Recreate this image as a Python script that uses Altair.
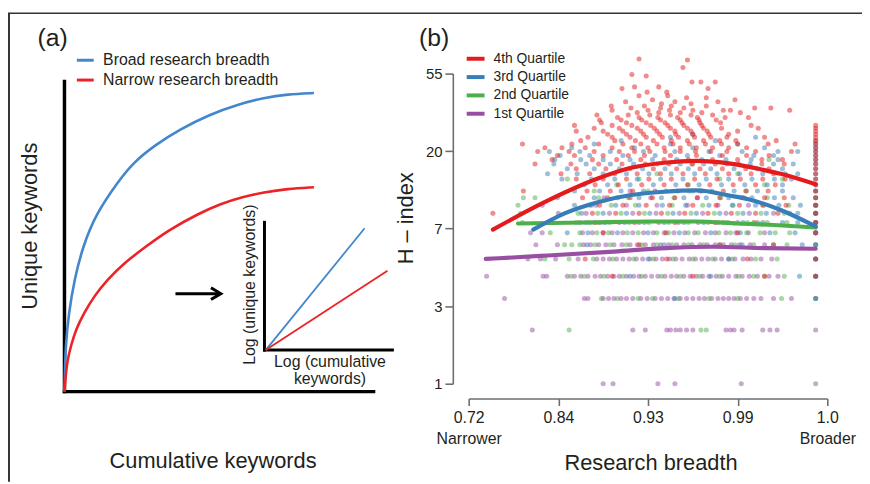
import altair as alt
import pandas as pd

FONT = "Liberation Sans"
INK = "#231f20"
AXIS_GREY = "#6d6e70"

# ---------------- panel (a): schematic ----------------
A_SERIES = ["Broad research breadth", "Narrow research breadth"]
A_COLORS = ["#4386cc", "#ec2227"]

BROAD_X = [0, 0.32, 1.4, 3.2, 5.9, 10.2, 17.6, 22.4, 29.4, 37.4, 47.0, 56.1, 64.6, 72.1, 80.7]
BROAD_Y = [0, 14.8, 25.4, 36.1, 46.7, 57.4, 68.1, 74.0, 79.6, 84.6, 89.4, 92.6, 94.8, 95.9, 96.3]
NARROW_X = [0, 0.75, 2.1, 3.7, 6.4, 9.6, 13.9, 19.2, 26.2, 33.7, 43.3, 50.7, 57.1, 64.6, 72.1, 80.7]
NARROW_Y = [0, 9.5, 14.8, 20.1, 25.5, 30.8, 36.1, 41.4, 46.7, 52.1, 57.4, 60.6, 62.7, 64.3, 65.4, 65.9]

INSET_BROAD_X = [65.1, 97.1]
INSET_BROAD_Y = [13.4, 52.7]
INSET_NARROW_X = [65.1, 104.5]
INSET_NARROW_Y = [13.4, 39.0]

AXES_X = [0, 0, 64.7, 64.7]
AXES_Y = [0, 0, 13.4, 13.4]
AXES_X2 = [0, 100, 64.7, 106.1]
AXES_Y2 = [100, 0, 54.6, 13.4]
AXES_W = [3.5, 3.5, 3.0, 3.0]

ARROW_X = [35.9, 50.0]
ARROW_Y = [31.6, 31.6]
ARROW_TIP = [50.6, 31.6]

# ---------------- panel (b): scatter ----------------
Q_NAMES = ["4th Quartile", "3rd Quartile", "2nd Quartile", "1st Quartile"]
Q_COLORS = ["#e41a1c", "#377eb8", "#4daf4a", "#984ea3"]

X_TICKS = [0, 100, 200, 300, 400]
X_TICK_LABELS = ["0.72", "0.84", "0.93", "0.99", "1.0"]
X_END_LABELS = ["Narrower", "Broader"]
Y_TICKS = [1, 2.71828, 7.38906, 20.0855, 54.5982]
Y_TICK_LABELS = ["1", "3", "7", "20", "55"]

# H-index level -> breadth positions (axis units, 0 = 0.72 ... 400 = 1.0)
Q1_ROWS = {
    1: [150, 161, 211, 230, 304, 387],
    2: [71, 183, 197, 221, 225, 231, 236, 243, 250, 287, 292, 296, 305, 328, 336, 344, 387],
    3: [40, 129, 133, 150, 156, 162, 170, 176, 183, 192, 199, 208, 215, 222, 229, 236, 243, 250,
        257, 263, 271, 278, 284, 290, 296, 303, 310, 318, 326, 340, 360, 387],
    4: [20, 83, 87, 110, 118, 125, 133, 141, 147, 155, 162, 168, 176, 184, 190, 197, 204, 211, 219,
        226, 232, 240, 247, 254, 261, 268, 276, 283, 290, 298, 305, 313, 322, 335, 345, 387],
    5: [66, 80, 97, 122, 143, 150, 157, 165, 172, 179, 187, 194, 202, 209, 216, 224, 231, 238, 246,
        253, 260, 267, 275, 282, 290, 297, 306, 315, 326, 338, 387],
    6: [75, 99, 128, 136, 145, 153, 162, 171, 180, 188, 197, 206, 214, 223, 232, 240, 249, 258, 266,
        275, 284, 293, 302, 314, 330, 387],
    7: [69, 82, 127, 138, 150, 160, 172, 183, 195, 206, 218, 229, 241, 252, 264, 275, 287, 298, 312, 330, 387],
    8: [124, 146, 168, 190, 212, 234, 256, 278, 300, 322, 387],
    9: [100, 131, 157, 183, 209, 235, 261, 287, 313, 340, 387],
    10: [82, 142, 176, 210, 244, 278, 312, 387],
    11: [151, 203, 255, 307],
    12: [180, 260],
}
Q2_ROWS = {
    2: [112, 259, 265],
    3: [148, 166, 189, 205, 234, 268, 300, 349, 387],
    4: [114, 129, 151, 172, 193, 215, 236, 258, 280, 301, 318, 330, 352, 387],
    5: [85, 112, 139, 161, 184, 206, 228, 250, 272, 294, 320, 344, 387],
    6: [107, 115, 124, 141, 158, 176, 193, 210, 227, 245, 262, 280, 297, 318, 340, 355, 387],
    7: [91, 124, 143, 156, 177, 189, 210, 223, 245, 256, 279, 292, 310, 325, 342, 358, 387],
    8: [60, 92, 120, 135, 157, 179, 201, 223, 245, 267, 289, 311, 333, 355, 387],
    9: [58, 122, 144, 170, 196, 222, 248, 274, 300, 326, 352, 387],
    10: [55, 135, 159, 186, 227, 261, 295, 329, 357, 387],
    11: [61, 74, 145, 178, 229, 281, 333, 387],
    12: [140, 200, 250, 310, 387],
    13: [165, 245, 330],
    14: [110, 190, 280, 350],
    15: [210, 300],
    17: [250],
    18: [335],
}
Q3_ROWS = {
    3: [230, 387],
    4: [180, 270, 369, 387],
    5: [200, 290, 387],
    6: [132, 218, 305, 372, 387],
    7: [110, 133, 166, 200, 235, 270, 303, 336, 364, 387],
    8: [131, 152, 174, 196, 218, 240, 262, 284, 306, 328, 350, 367, 387],
    9: [126, 150, 176, 202, 228, 254, 280, 306, 332, 358, 367, 387],
    10: [118, 137, 164, 190, 216, 242, 268, 294, 320, 346, 370, 387],
    11: [99, 140, 166, 190, 215, 240, 265, 290, 316, 341, 362, 387],
    12: [118, 146, 170, 195, 220, 246, 271, 296, 322, 350, 387],
    13: [129, 155, 180, 206, 231, 257, 282, 308, 333, 350, 387],
    14: [104, 137, 163, 188, 214, 239, 265, 290, 316, 341, 360, 387],
    15: [88, 121, 150, 176, 201, 226, 252, 277, 302, 328, 353, 367, 387],
    16: [110, 140, 168, 194, 219, 245, 270, 296, 322, 350, 387],
    17: [95, 131, 158, 184, 210, 236, 262, 288, 314, 340, 362, 387],
    18: [96, 125, 150, 180, 205, 232, 260, 287, 315, 345, 387],
    19: [102, 135, 172, 208, 244, 280, 318, 340, 387],
    20: [90, 124, 158, 195, 230, 268, 305, 345, 367, 387],
    21: [115, 185, 250, 330, 387],
    22: [140, 225, 300, 387],
    23: [170, 275, 387],
    24: [225, 320],
    25: [250],
}
Q4_ROWS = {
    4: [160, 250, 330, 387],
    5: [130, 221, 311, 387],
    6: [190, 280, 340],
    7: [150, 220, 300, 387],
    8: [141, 185, 230, 275, 318, 387],
    9: [27, 138, 164, 190, 215, 241, 267, 293, 320, 345, 387],
    10: [146, 172, 198, 224, 250, 276, 302, 328, 354, 387],
    11: [127, 155, 180, 205, 230, 255, 280, 305, 330, 352, 387],
    12: [61, 132, 158, 183, 208, 233, 258, 284, 309, 334, 387],
    13: [141, 167, 193, 218, 244, 269, 295, 320, 342, 387],
    14: [120, 150, 176, 201, 226, 252, 277, 303, 328, 353, 387],
    15: [103, 135, 163, 188, 214, 239, 264, 290, 315, 340, 387],
    16: [120, 153, 180, 206, 232, 258, 283, 309, 335, 387],
    17: [74, 114, 145, 171, 197, 223, 249, 275, 301, 327, 352, 387],
    18: [93, 138, 165, 192, 218, 245, 272, 300, 327, 350, 387],
    19: [99, 118, 150, 178, 196, 225, 254, 283, 310, 335, 387],
    20: [77, 112, 140, 168, 185, 202, 219, 236, 253, 270, 288, 320, 360, 387],
    21: [85, 104, 130, 160, 182, 200, 218, 236, 254, 272, 290, 310, 387],
    22: [60, 115, 145, 172, 192, 210, 228, 246, 264, 282, 300, 334, 364, 387],
    23: [125, 163, 186, 206, 226, 244, 262, 280, 298, 343, 387],
    24: [133, 160, 180, 198, 216, 234, 252, 270, 288, 330, 387],
    25: [155, 176, 195, 213, 231, 250, 268, 290, 387],
    26: [120, 150, 172, 192, 210, 230, 248, 266, 300, 387],
    27: [140, 168, 188, 207, 225, 244, 262, 282, 323, 387],
    28: [118, 160, 182, 203, 222, 240, 260, 315, 387],
    29: [148, 176, 198, 219, 238, 258, 281],
    30: [146, 170, 193, 214, 236, 257, 276],
    31: [166, 190, 211, 233, 255, 286, 312],
    32: [143, 178, 202, 225, 248, 272],
    33: [188, 212, 236, 260, 303],
    34: [160, 200, 224, 250, 284, 292, 358],
    35: [181, 214, 240, 319, 337],
    36: [159, 196, 226, 265],
    37: [215, 248],
    38: [175, 230, 278],
    39: [205, 297],
    40: [243, 265],
    41: [190, 222],
    43: [199, 221],
    45: [171, 267],
    46: [185, 212],
    49: [249, 259, 275],
    53: [198],
    54: [182],
    59: [239],
    65: [244],
    66: [190],
}

Q4_LINE_B = [27, 88, 144, 181, 218, 254, 292, 328, 348, 387]
Q4_LINE_H = [7.3, 10.6, 14.1, 16.2, 17.3, 17.7, 17.1, 15.8, 15.0, 13.1]
Q3_LINE_B = [72, 107, 144, 181, 218, 254, 292, 312, 348, 387]
Q3_LINE_H = [7.3, 9.0, 10.4, 11.4, 11.9, 12.1, 11.3, 10.8, 9.4, 7.6]
Q2_LINE_B = [55, 130, 200, 254, 300, 350, 387]
Q2_LINE_H = [7.9, 8.0, 8.1, 8.1, 7.9, 7.7, 7.5]
Q1_LINE_B = [19, 80, 162, 220, 273, 330, 387]
Q1_LINE_H = [5.0, 5.2, 5.5, 5.75, 5.85, 5.75, 5.7]

# ---------------- tables ----------------
a_curves = pd.DataFrame(
    [{"x": x, "y": y, "s": A_SERIES[0]} for x, y in zip(BROAD_X, BROAD_Y)]
    + [{"x": x, "y": y, "s": A_SERIES[1]} for x, y in zip(NARROW_X, NARROW_Y)]
)
a_inset = pd.DataFrame(
    [{"x": x, "y": y, "s": A_SERIES[0]} for x, y in zip(INSET_BROAD_X, INSET_BROAD_Y)]
    + [{"x": x, "y": y, "s": A_SERIES[1]} for x, y in zip(INSET_NARROW_X, INSET_NARROW_Y)]
)
a_axes = pd.DataFrame({"x": AXES_X, "y": AXES_Y, "x2": AXES_X2, "y2": AXES_Y2, "w": AXES_W})
a_arrow = pd.DataFrame({"x": [ARROW_X[0]], "x2": [ARROW_X[1]], "y": [ARROW_Y[0]]})
a_tip = pd.DataFrame({"x": [ARROW_TIP[0]], "y": [ARROW_TIP[1]]})

pts = []
for qname, rows in zip(["1st Quartile", "2nd Quartile", "3rd Quartile", "4th Quartile"],
                       [Q1_ROWS, Q2_ROWS, Q3_ROWS, Q4_ROWS]):
    for h, bs in rows.items():
        for b in bs:
            pts.append({"b": b, "h": h, "q": qname})
b_points = pd.DataFrame(pts)

lines = []
for qname, bs, hs in [("1st Quartile", Q1_LINE_B, Q1_LINE_H), ("2nd Quartile", Q2_LINE_B, Q2_LINE_H),
                      ("3rd Quartile", Q3_LINE_B, Q3_LINE_H), ("4th Quartile", Q4_LINE_B, Q4_LINE_H)]:
    for b, h in zip(bs, hs):
        lines.append({"b": b, "h": h, "q": qname})
b_lines = pd.DataFrame(lines)
b_legend = pd.DataFrame({"q": Q_NAMES})

# ---------------- scales ----------------
A_XS = alt.Scale(domain=[0, 100], range=[-408, -96], nice=False, zero=False)
A_YS = alt.Scale(domain=[0, 100], range=[321, 8], nice=False, zero=False)
A_COL = alt.Scale(domain=A_SERIES, range=A_COLORS)

B_XS = alt.Scale(domain=[0, 400], nice=False, zero=False)
B_YS = alt.Scale(type="log", domain=[Y_TICKS[0], Y_TICKS[-1]], nice=False)
B_COL = alt.Scale(domain=Q_NAMES, range=Q_COLORS)
LEG_YS = alt.Scale(type="point", domain=Q_NAMES, range=[-15, 40.5], padding=0)

x_expr = ""
for i, (v, lab) in enumerate(zip(X_TICKS, X_TICK_LABELS)):
    if i == 0:
        s = f"['{lab}', '{X_END_LABELS[0]}']"
    elif i == len(X_TICKS) - 1:
        s = f"['{lab}', '{X_END_LABELS[1]}']"
    else:
        s = f"'{lab}'"
    if i < len(X_TICKS) - 1:
        x_expr += f"datum.value == {v} ? {s} : "
    else:
        x_expr += s
y_expr = ""
for v, lab in zip(Y_TICKS[:-1], Y_TICK_LABELS[:-1]):
    y_expr += f"abs(datum.value - {v}) < 0.01 ? '{lab}' : "
y_expr += f"'{Y_TICK_LABELS[-1]}'"

# ---------------- panel (a) layers ----------------
a_enc = dict(x=alt.X("x:Q", scale=A_XS, axis=None), y=alt.Y("y:Q", scale=A_YS, axis=None))

curves = alt.Chart(a_curves).mark_line(strokeWidth=2.6, interpolate="basis").encode(
    **a_enc,
    color=alt.Color("s:N", scale=A_COL, legend=alt.Legend(
        title=None, orient="none", legendX=-397, legendY=-23.5, symbolType="stroke",
        symbolStrokeWidth=3, symbolSize=289, labelFontSize=16, labelFont=FONT, labelColor=INK,
        rowPadding=2, labelOffset=8, padding=0, labelLimit=0)),
)
inset = alt.Chart(a_inset).mark_line(strokeWidth=1.8).encode(
    **a_enc, color=alt.Color("s:N", scale=A_COL, legend=None), detail="s:N"
)
axes_a = alt.Chart(a_axes).mark_rule(color="black", strokeCap="square").encode(
    x=alt.X("x:Q", scale=A_XS, axis=None), y=alt.Y("y:Q", scale=A_YS, axis=None),
    x2="x2:Q", y2="y2:Q", strokeWidth=alt.StrokeWidth("w:Q", scale=None, legend=None),
)
arrow = alt.Chart(a_arrow).mark_rule(color="black", strokeWidth=3).encode(
    x=alt.X("x:Q", scale=A_XS, axis=None), x2="x2:Q", y=alt.Y("y:Q", scale=A_YS, axis=None)
)
tip = alt.Chart(a_tip).mark_point(shape="M -1 -0.6 L 0 0 L -1 0.6", filled=False, strokeWidth=3,
                                  size=400, color="black", opacity=1).encode(**a_enc)


def label(txt, x, y, size, angle=0):
    return alt.Chart(pd.DataFrame({"t": [txt]})).mark_text(
        x=x, y=y, angle=angle, fontSize=size, font=FONT, color=INK, align="center", baseline="middle"
    ).encode(text="t:N")


texts = [
    label("(a)", -420, -36, 25),
    label("(b)", -35, -36, 25),
    label("Unique keywords", -443, 154, 22, 270),
    label("Cumulative keywords", -258, 391, 22),
    label("Log (unique keywords)", -221, 213, 16, 270),
    label("Log (cumulative", -140, 291, 16),
    label("keywords)", -140, 308, 16),
    label("H \u2013 index", -63, 146, 22, 270),
    label("Research breadth", 184, 393, 22),
]

frame_top = alt.Chart(pd.DataFrame({"t": [0]})).mark_rule(color="#333333", strokeWidth=1.5).encode(
    x=alt.value(-465), x2=alt.value(397), y=alt.value(-61))
frame_left = alt.Chart(pd.DataFrame({"t": [0]})).mark_rule(color="#333333", strokeWidth=2).encode(
    x=alt.value(-464), y=alt.value(-61), y2=alt.value(412))

panel_a = alt.layer(axes_a, curves, inset, arrow, tip, frame_top, frame_left, *texts)

# ---------------- panel (b) layers ----------------
x_axis = alt.Axis(values=X_TICKS, labelExpr=x_expr, offset=15, tickSize=7, labelFontSize=16,
                  labelFont=FONT, labelColor=INK, labelPadding=4, labelLineHeight=21,
                  domainColor=AXIS_GREY, tickColor=AXIS_GREY, domainWidth=1.6, tickWidth=1.6,
                  grid=False, title=None, labelFlush=False, labelOverlap=False)
y_axis = alt.Axis(values=Y_TICKS, labelExpr=y_expr, offset=16, tickSize=8, labelFontSize=15,
                  labelFont=FONT, labelColor=INK, labelPadding=3, domainColor=AXIS_GREY,
                  tickColor=AXIS_GREY, domainWidth=1.6, tickWidth=1.6, grid=False, title=None,
                  labelFlush=False, labelOverlap=False)

points = alt.Chart(b_points).mark_circle(size=26, opacity=0.5).encode(
    x=alt.X("b:Q", scale=B_XS, axis=x_axis),
    y=alt.Y("h:Q", scale=B_YS, axis=y_axis),
    color=alt.Color("q:N", scale=B_COL, legend=None),
)
qlines = alt.Chart(b_lines).mark_line(strokeWidth=4.2, interpolate="monotone", strokeCap="round").encode(
    x=alt.X("b:Q", scale=B_XS, axis=x_axis),
    y=alt.Y("h:Q", scale=B_YS, axis=y_axis),
    color=alt.Color("q:N", scale=B_COL, legend=None),
)
panel_b = alt.layer(points, qlines)

# legend of panel (b), drawn from the quartile names
leg_lines = alt.Chart(b_legend).mark_rule(strokeWidth=4).encode(
    x=alt.value(-2), x2=alt.value(16),
    y=alt.Y("q:N", scale=LEG_YS, axis=None),
    color=alt.Color("q:N", scale=B_COL, legend=None),
)
leg_text = alt.Chart(b_legend).mark_text(align="left", baseline="middle", fontSize=14, font=FONT,
                                         color=INK).encode(
    x=alt.value(25), y=alt.Y("q:N", scale=LEG_YS, axis=None), text="q:N"
)
legend_b = alt.layer(leg_lines, leg_text)

chart = alt.layer(panel_a, panel_b, legend_b).resolve_scale(
    x="independent", y="independent", color="independent"
).properties(
    width=362, height=313,
    autosize=alt.AutoSizeParams(type="none"),
    padding={"left": 465, "top": 64, "right": 35, "bottom": 99},
    background="white",
).configure(font=FONT, view=alt.ViewConfig(stroke=None))

chart.save("out.html", embed_options={"renderer": "svg", "actions": False})
